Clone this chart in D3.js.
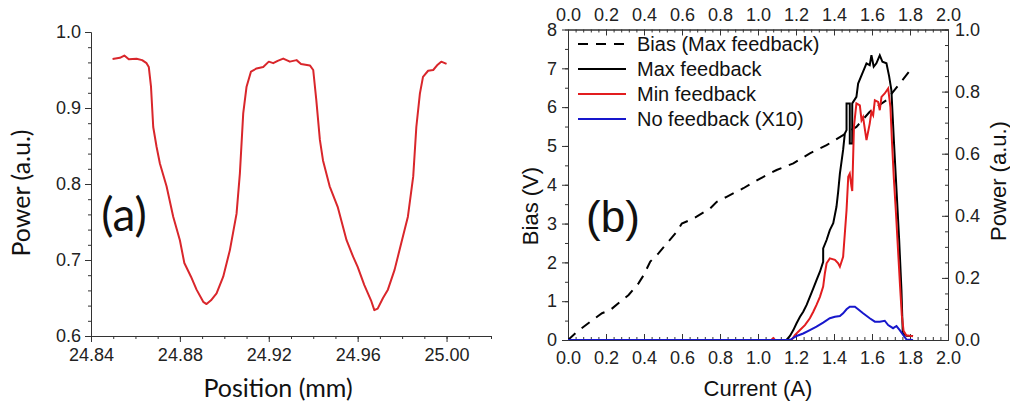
<!DOCTYPE html>
<html>
<head>
<meta charset="utf-8">
<script src="https://cdn.jsdelivr.net/npm/d3@7"></script>
<style>
  html, body { margin: 0; padding: 0; background: #fff; }
  svg { display: block; }
  .tick text { font-family: "Liberation Sans", Arial, sans-serif; fill: #222; }
</style>
</head>
<body>
<svg id="chart" width="1010" height="409"></svg>
<script>
// ---------- Panel (a) data ----------
const positionMM = [24.8497,24.853,24.855,24.857,24.8605,24.863,24.865,24.866,24.867,24.868,24.8695,24.871,24.874,24.877,24.880,24.882,24.885,24.8875,24.8905,24.892,24.894,24.8965,24.8995,24.9025,24.9055,24.907,24.9085,24.910,24.912,24.9145,24.9175,24.920,24.922,24.924,24.9265,24.9295,24.9325,24.9345,24.9385,24.940,24.9414,24.943,24.9444,24.9474,24.951,24.955,24.958,24.960,24.963,24.966,24.9675,24.969,24.9714,24.9736,24.9766,24.9796,24.9826,24.985,24.9864,24.988,24.9894,24.9917,24.994,24.996,24.9976,25.000];
const powerA = [0.9645,0.966,0.969,0.964,0.9649,0.963,0.959,0.954,0.928,0.875,0.849,0.827,0.797,0.757,0.726,0.696,0.678,0.661,0.645,0.642,0.647,0.656,0.678,0.713,0.761,0.814,0.893,0.928,0.948,0.952,0.954,0.961,0.959,0.962,0.965,0.961,0.963,0.958,0.956,0.950,0.910,0.858,0.831,0.797,0.770,0.726,0.704,0.691,0.667,0.647,0.634,0.636,0.650,0.661,0.687,0.722,0.757,0.810,0.875,0.919,0.941,0.949,0.950,0.957,0.961,0.958];
const xTicksA = [24.84, 24.88, 24.92, 24.96, 25.00];
const yTicksA = [0.6, 0.7, 0.8, 0.9, 1.0];

// ---------- Panel (b) data ----------
const currentBias = [0,0.047,0.117,0.179,0.222,0.275,0.319,0.371,0.398,0.433,0.476,0.52,0.573,0.599,0.66,0.748,0.783,0.835,0.923,1.011,1.098,1.186,1.273,1.361,1.448,1.518,1.588,1.676,1.746,1.816];
const biasV = [0,0.21,0.47,0.69,0.77,0.99,1.16,1.46,1.67,2.02,2.23,2.49,2.79,3.00,3.13,3.39,3.56,3.69,3.91,4.16,4.38,4.55,4.81,5.02,5.28,5.49,5.88,6.18,6.61,7.04];

const currentMax = [0,1.150,1.168,1.186,1.203,1.221,1.238,1.256,1.273,1.291,1.308,1.326,1.343,1.343,1.361,1.378,1.396,1.413,1.422,1.431,1.448,1.457,1.466,1.466,1.483,1.483,1.496,1.496,1.518,1.527,1.553,1.571,1.588,1.597,1.609,1.623,1.641,1.655,1.676,1.690,1.702,1.715,1.729,1.743,1.755,1.762,1.781,1.816];
const powerMax = [0,0,0.013,0.032,0.054,0.075,0.091,0.113,0.139,0.166,0.193,0.220,0.252,0.295,0.322,0.354,0.376,0.429,0.478,0.536,0.612,0.665,0.676,0.762,0.762,0.633,0.633,0.762,0.783,0.826,0.864,0.891,0.885,0.917,0.880,0.891,0.917,0.896,0.891,0.850,0.805,0.644,0.483,0.322,0.161,0.021,0.014,0.013];

const currentMin = [0,1.07,1.08,1.09,1.177,1.194,1.221,1.247,1.273,1.291,1.308,1.326,1.343,1.352,1.361,1.378,1.405,1.422,1.431,1.448,1.457,1.466,1.475,1.483,1.492,1.496,1.505,1.518,1.536,1.545,1.553,1.571,1.588,1.597,1.606,1.615,1.632,1.641,1.650,1.667,1.685,1.697,1.705,1.715,1.727,1.737,1.748,1.757,1.766,1.780,1.816];
const powerMin = [0,0,0.006,0,0,0.016,0.032,0.048,0.070,0.091,0.113,0.139,0.172,0.215,0.247,0.263,0.258,0.247,0.236,0.268,0.343,0.418,0.526,0.536,0.494,0.480,0.687,0.762,0.756,0.708,0.718,0.644,0.697,0.735,0.724,0.772,0.767,0.740,0.783,0.794,0.810,0.750,0.640,0.520,0.400,0.290,0.170,0.080,0.030,0.015,0.012];

const currentNo = [0,1.168,1.203,1.238,1.273,1.308,1.343,1.378,1.405,1.431,1.448,1.466,1.483,1.510,1.527,1.553,1.588,1.615,1.641,1.667,1.685,1.711,1.729,1.746,1.764,1.781,1.816];
const powerNo = [0,0,0.013,0.021,0.032,0.043,0.056,0.070,0.075,0.077,0.086,0.099,0.107,0.107,0.099,0.086,0.070,0.059,0.059,0.062,0.048,0.038,0.045,0.032,0.016,0.002,0];

const xTicksB = [0,0.2,0.4,0.6,0.8,1.0,1.2,1.4,1.6,1.8,2.0];
const biasTicks = [0,1,2,3,4,5,6,7,8];
const powerTicksB = [0,0.2,0.4,0.6,0.8,1.0];
const legendLabels = ["Bias (Max feedback)", "Max feedback", "Min feedback", "No feedback (X10)"];

// ---------- Drawing ----------
const svg = d3.select("#chart");
const RED_A = "#d9262b", RED = "#e21d1f", BLUE = "#1717cc", AXIS = "#333";
const tickFont = '"Liberation Sans", Arial, sans-serif';
const titleFontA = 'Lato, "Open Sans", sans-serif';

function styleAxis(g, fs) {
  g.selectAll("path.domain").attr("stroke", AXIS).attr("stroke-width", 1);
  g.selectAll(".tick line").attr("stroke", AXIS).attr("stroke-width", 1);
  g.selectAll(".tick text").attr("font-size", fs).attr("font-family", tickFont).attr("fill", "#222");
}

// Panel (a)
const xA = d3.scaleLinear().domain([24.84, 25.02]).range([91, 491]);
const yA = d3.scaleLinear().domain([0.6, 1.0]).range([336, 32]);

const gA = svg.append("g");
// minor ticks
gA.append("g").attr("transform", "translate(0,336)")
  .call(d3.axisBottom(xA).tickValues(d3.range(0, 19).map(i => 24.84 + i * 0.01)).tickSize(3).tickFormat("").tickSizeOuter(0))
  .call(g => styleAxis(g, 18));
gA.append("g").attr("transform", "translate(0,336)")
  .call(d3.axisBottom(xA).tickValues(xTicksA).tickSize(6).tickPadding(6).tickFormat(d3.format(".2f")).tickSizeOuter(0))
  .call(g => styleAxis(g, 18));
gA.append("g").attr("transform", "translate(91,0)")
  .call(d3.axisLeft(yA).tickValues(d3.range(0, 21).map(i => 0.6 + i * 0.02)).tickSize(3).tickFormat("").tickSizeOuter(0))
  .call(g => styleAxis(g, 18));
gA.append("g").attr("transform", "translate(91,0)")
  .call(d3.axisLeft(yA).tickValues(yTicksA).tickSize(6).tickPadding(4).tickFormat(d3.format(".1f")).tickSizeOuter(0))
  .call(g => styleAxis(g, 18));

const lineA = d3.line().x((d, i) => xA(positionMM[i])).y((d, i) => yA(powerA[i])).curve(d3.curveLinear);
gA.append("path").datum(powerA).attr("d", lineA)
  .attr("fill", "none").attr("stroke", RED_A).attr("stroke-width", 2).attr("stroke-linejoin", "round");

gA.append("text").attr("x", 278).attr("y", 397).attr("text-anchor", "middle")
  .attr("font-family", titleFontA).attr("font-size", 25).attr("fill", "#111").text("Position (mm)");
gA.append("text").attr("transform", "translate(30,193) rotate(-90)").attr("text-anchor", "middle")
  .attr("font-family", titleFontA).attr("font-size", 25).attr("fill", "#111").text("Power (a.u.)");
gA.append("text").attr("x", 124).attr("y", 231).attr("text-anchor", "middle")
  .attr("font-family", titleFontA).attr("font-size", 46).attr("fill", "#111").text("(a)");

// Panel (b)
const xB = d3.scaleLinear().domain([0, 2]).range([568, 948]);
const yBias = d3.scaleLinear().domain([0, 8]).range([340, 29.5]);
const yPow = d3.scaleLinear().domain([0, 1]).range([340, 29.5]);

const gB = svg.append("g");
const minorX = d3.range(0, 51).map(i => i * 0.04);
// bottom
gB.append("g").attr("transform", "translate(0,340)")
  .call(d3.axisBottom(xB).tickValues(minorX).tickSize(-3).tickFormat("").tickSizeOuter(0)).call(g => styleAxis(g, 18));
gB.append("g").attr("transform", "translate(0,340)")
  .call(d3.axisBottom(xB).tickValues(xTicksB).tickSize(-6).tickPadding(11).tickFormat(d3.format(".1f")).tickSizeOuter(0)).call(g => styleAxis(g, 18));
// top
gB.append("g").attr("transform", "translate(0,29.5)")
  .call(d3.axisTop(xB).tickValues(minorX).tickSize(-3).tickFormat("").tickSizeOuter(0)).call(g => styleAxis(g, 18));
gB.append("g").attr("transform", "translate(0,29.5)")
  .call(d3.axisTop(xB).tickValues(xTicksB).tickSize(-6).tickPadding(9).tickFormat(d3.format(".1f")).tickSizeOuter(0)).call(g => styleAxis(g, 18));
// left
gB.append("g").attr("transform", "translate(568,0)")
  .call(d3.axisLeft(yBias).tickValues(d3.range(0, 17).map(i => i * 0.5)).tickSize(3).tickFormat("").tickSizeOuter(0)).call(g => styleAxis(g, 18));
gB.append("g").attr("transform", "translate(568,0)")
  .call(d3.axisLeft(yBias).tickValues(biasTicks).tickSize(6).tickPadding(5).tickFormat(d3.format("d")).tickSizeOuter(0)).call(g => styleAxis(g, 18));
// right
gB.append("g").attr("transform", "translate(948,0)")
  .call(d3.axisRight(yPow).tickValues(d3.range(0, 21).map(i => i * 0.05)).tickSize(-3).tickFormat("").tickSizeOuter(0)).call(g => styleAxis(g, 18));
gB.append("g").attr("transform", "translate(948,0)")
  .call(d3.axisRight(yPow).tickValues(powerTicksB).tickSize(-6).tickPadding(7).tickFormat(d3.format(".1f")).tickSizeOuter(0)).call(g => styleAxis(g, 18));

svg.append("clipPath").attr("id", "clipB").append("rect")
  .attr("x", 568).attr("y", 29.5).attr("width", 380).attr("height", 310.5);
const plotB = gB.append("g").attr("clip-path", "url(#clipB)");

const biasLine = d3.line().x((d, i) => xB(currentBias[i])).y((d, i) => yBias(biasV[i]));
plotB.append("path").datum(biasV).attr("d", biasLine).attr("fill", "none")
  .attr("stroke", "#000").attr("stroke-width", 2).attr("stroke-dasharray", "10,8");

function powLine(xs, ys, color) {
  const ln = d3.line().x((d, i) => xB(xs[i])).y((d, i) => yPow(ys[i]));
  plotB.append("path").datum(ys).attr("d", ln).attr("fill", "none")
    .attr("stroke", color).attr("stroke-width", 2).attr("stroke-linejoin", "miter");
}
powLine(currentMax, powerMax, "#000");
powLine(currentMin, powerMin, RED);
powLine(currentNo, powerNo, BLUE);

// legend
const legColors = ["#000", "#000", RED, BLUE];
const legY = [44, 69, 94, 119];
legendLabels.forEach((lab, i) => {
  gB.append("line").attr("x1", 578).attr("x2", 626).attr("y1", legY[i]).attr("y2", legY[i])
    .attr("stroke", legColors[i]).attr("stroke-width", 2)
    .attr("stroke-dasharray", i === 0 ? "10,8" : null);
  gB.append("text").attr("x", 637).attr("y", legY[i] + 7).attr("font-family", tickFont)
    .attr("font-size", 20).attr("fill", "#111").text(lab);
});

gB.append("text").attr("x", 758).attr("y", 396).attr("text-anchor", "middle")
  .attr("font-family", tickFont).attr("font-size", 22).attr("fill", "#111").text("Current (A)");
gB.append("text").attr("transform", "translate(538,206) rotate(-90)").attr("text-anchor", "middle")
  .attr("font-family", tickFont).attr("font-size", 22).attr("fill", "#111").text("Bias (V)");
gB.append("text").attr("transform", "translate(1006,181) rotate(-90)").attr("text-anchor", "middle")
  .attr("font-family", tickFont).attr("font-size", 22).attr("fill", "#111").text("Power (a.u.)");
gB.append("text").attr("x", 613).attr("y", 232).attr("text-anchor", "middle")
  .attr("font-family", tickFont).attr("font-size", 44).attr("fill", "#111").text("(b)");
</script>
</body>
</html>
